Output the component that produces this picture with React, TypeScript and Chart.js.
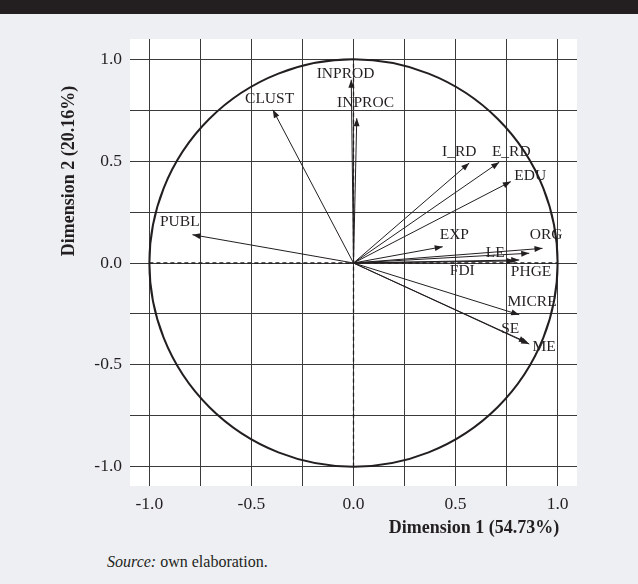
import React, { useEffect, useRef } from "react";
import { Chart, registerables } from "chart.js";

Chart.register(...registerables);

// Variables of the PCA correlation circle
const variables = ["INPROD", "INPROC", "CLUST", "PUBL", "I_RD", "E_RD", "EDU", "EXP", "ORG", "LE", "FDI", "PHGE", "MICRE", "SE", "ME"];
// Coordinates on Dimension 1 and Dimension 2
const dim1 = [-0.011, 0.016, -0.395, -0.789, 0.567, 0.714, 0.771, 0.437, 0.926, 0.861, 0.79, 0.812, 0.812, 0.85, 0.861];
const dim2 = [0.9, 0.711, 0.752, 0.139, 0.491, 0.495, 0.4, 0.08, 0.072, 0.048, 0.01, 0.015, -0.254, -0.39, -0.398];
// Label anchor positions (data units)
const labelX = [-0.039, 0.059, -0.411, -0.851, 0.518, 0.773, 0.866, 0.494, 0.944, 0.694, 0.533, 0.87, 0.875, 0.768, 0.934];
const labelY = [0.929, 0.786, 0.806, 0.201, 0.545, 0.545, 0.428, 0.138, 0.138, 0.049, -0.039, -0.044, -0.192, -0.324, -0.413];

const tickValues = [-1, -0.5, 0, 0.5, 1];
const tickLabels = ["-1.0", "-0.5", "0.0", "0.5", "1.0"];
const xTitle = "Dimension 1 (54.73%)";
const yTitle = "Dimension 2 (20.16%)";

const INK = "#231f20";
const SERIF = "'Liberation Serif', 'DejaVu Serif', serif";

function tickCb(v: any) {
  const val = Number(v);
  for (let i = 0; i < tickValues.length; i++) {
    if (Math.abs(val - tickValues[i]) < 1e-6) return tickLabels[i];
  }
  return "";
}

const deco = {
  id: "deco",
  beforeDraw(chart: any) {
    const { ctx, chartArea } = chart;
    ctx.save();
    ctx.fillStyle = "#ffffff";
    ctx.fillRect(chartArea.left, chartArea.top, chartArea.right - chartArea.left, chartArea.bottom - chartArea.top);
    ctx.restore();
  },
  beforeDatasetsDraw(chart: any) {
    const { ctx } = chart;
    const xs = chart.scales.x;
    const ys = chart.scales.y;
    const cx = xs.getPixelForValue(0);
    const cy = ys.getPixelForValue(0);
    const rx = xs.getPixelForValue(1) - cx;
    const ry = cy - ys.getPixelForValue(1);
    ctx.save();
    ctx.strokeStyle = INK;
    ctx.lineWidth = 2;
    ctx.beginPath();
    ctx.ellipse(cx, cy, rx, ry, 0, 0, Math.PI * 2);
    ctx.stroke();
    ctx.restore();
  },
  afterDatasetsDraw(chart: any) {
    const { ctx, chartArea } = chart;
    const xs = chart.scales.x;
    const ys = chart.scales.y;
    const ox = xs.getPixelForValue(0);
    const oy = ys.getPixelForValue(0);
    ctx.save();
    ctx.fillStyle = INK;
    for (let i = 0; i < variables.length; i++) {
      const tx = xs.getPixelForValue(dim1[i]);
      const ty = ys.getPixelForValue(dim2[i]);
      const ang = Math.atan2(ty - oy, tx - ox);
      const len = 8;
      const hw = 3;
      const bx = tx - len * Math.cos(ang);
      const by = ty - len * Math.sin(ang);
      ctx.beginPath();
      ctx.moveTo(tx, ty);
      ctx.lineTo(bx + hw * Math.sin(ang), by - hw * Math.cos(ang));
      ctx.lineTo(bx - hw * Math.sin(ang), by + hw * Math.cos(ang));
      ctx.closePath();
      ctx.fill();
    }
    ctx.font = `15.5px ${SERIF}`;
    ctx.textAlign = "center";
    ctx.textBaseline = "middle";
    for (let i = 0; i < variables.length; i++) {
      ctx.fillText(variables[i], xs.getPixelForValue(labelX[i]), ys.getPixelForValue(labelY[i]));
    }
    // axis titles
    ctx.font = `bold 18px ${SERIF}`;
    ctx.fillText(xTitle, chartArea.right - 103, chartArea.bottom + 42);
    ctx.translate(69.5, chartArea.top + 132);
    ctx.rotate(-Math.PI / 2);
    ctx.fillText(yTitle, 0, 0);
    ctx.restore();
  },
};

export default function App() {
  const ref = useRef<HTMLCanvasElement | null>(null);
  useEffect(() => {
    if (!ref.current) return;
    const datasets: any[] = variables.map((name, i) => ({
      label: name,
      data: [
        { x: 0, y: 0 },
        { x: dim1[i], y: dim2[i] },
      ],
      showLine: true,
      borderColor: INK,
      borderWidth: 1,
      pointRadius: 0,
      fill: false,
    }));
    datasets.push({
      label: "h0",
      data: [
        { x: -1, y: 0 },
        { x: 1, y: 0 },
      ],
      showLine: true,
      borderColor: INK,
      borderWidth: 1.3,
      borderDash: [4, 3],
      pointRadius: 0,
    });
    datasets.push({
      label: "v0",
      data: [
        { x: 0, y: -1 },
        { x: 0, y: 1 },
      ],
      showLine: true,
      borderColor: INK,
      borderWidth: 1.3,
      borderDash: [4, 3],
      pointRadius: 0,
    });
    const chart = new Chart(ref.current, {
      type: "scatter",
      data: { datasets },
      plugins: [deco],
      options: {
        animation: false,
        responsive: false,
        devicePixelRatio: 1,
        layout: { padding: { top: 39, right: 61, left: 0, bottom: 0 } },
        plugins: { legend: { display: false }, tooltip: { enabled: false } },
        scales: {
          x: {
            type: "linear",
            min: -1.095,
            max: 1.095,
            border: { display: false },
            grid: { color: "#3a3a3a", lineWidth: 1, drawTicks: false },
            ticks: {
              stepSize: 0.25,
              includeBounds: false,
              autoSkip: false,
              maxRotation: 0,
              padding: 8,
              color: INK,
              font: { family: SERIF, size: 17.5 },
              callback: tickCb,
            },
            afterFit(scale: any) {
              scale.height = 54;
            },
          },
          y: {
            type: "linear",
            min: -1.095,
            max: 1.1,
            border: { display: false },
            grid: { color: "#3a3a3a", lineWidth: 1, drawTicks: false },
            ticks: {
              stepSize: 0.25,
              includeBounds: false,
              autoSkip: false,
              padding: 8,
              color: INK,
              font: { family: SERIF, size: 17.5 },
              callback: tickCb,
            },
            afterFit(scale: any) {
              scale.width = 130;
            },
          },
        },
      } as any,
    });
    return () => chart.destroy();
  }, []);

  return (
    <div style={{ position: "absolute", left: 0, top: 0, width: 638, height: 584, background: "#eeeff3", overflow: "hidden" }}>
      <div style={{ position: "absolute", left: 0, top: 0, width: 638, height: 14, background: INK }} />
      <canvas ref={ref} width={638} height={540} style={{ position: "absolute", left: 0, top: 0, width: 638, height: 540 }} />
      <div
        style={{
          position: "absolute",
          left: 107,
          top: 551,
          fontFamily: SERIF,
          fontSize: 16,
          color: INK,
          whiteSpace: "nowrap",
          lineHeight: "22px",
        }}
      >
        <i>Source:</i> own elaboration.
      </div>
    </div>
  );
}
